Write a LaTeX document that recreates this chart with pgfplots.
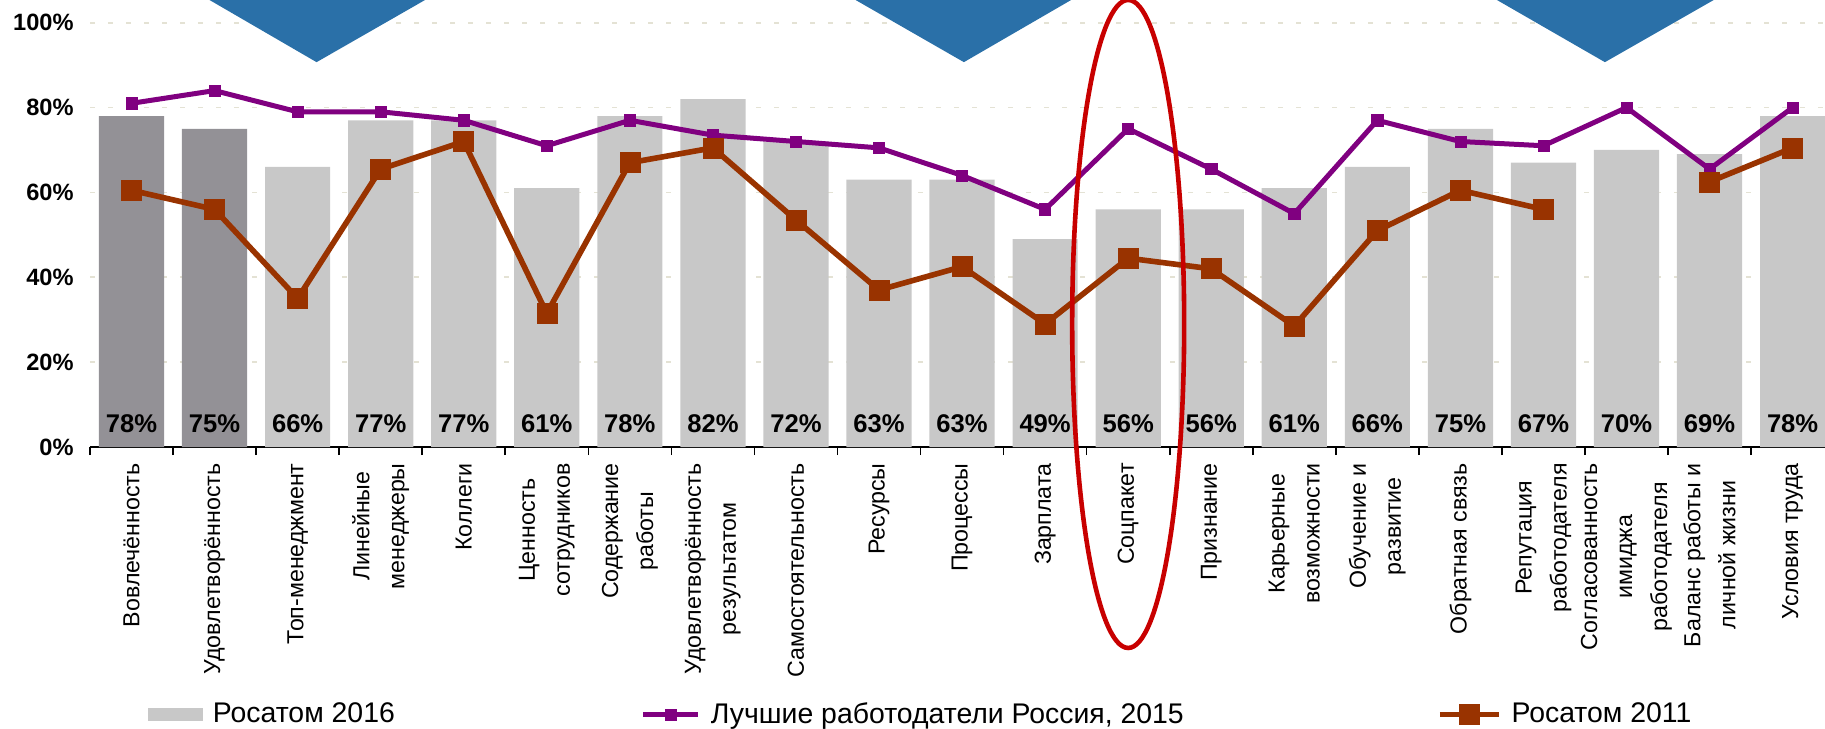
\documentclass[border=0pt]{standalone}
\usepackage{pgfplots}
\pgfplotsset{compat=1.18}
\usepackage{fontspec}
\setmainfont{Liberation Sans}
\definecolor{lightbar}{HTML}{C8C8C8}
\definecolor{darkbar}{HTML}{939196}
\definecolor{purp}{HTML}{800080}
\definecolor{brn}{HTML}{993300}
\definecolor{tri}{HTML}{2A70A8}
\definecolor{gridc}{HTML}{E4E2D4}
\definecolor{ell}{HTML}{C80000}
\pgfplotsset{
  barlegend/.style={legend image code/.code={\fill[lightbar] (0pt,-3.25pt) rectangle (27.5pt,3.25pt);}},
  linelegendA/.style={legend image code/.code={\draw[mark repeat=2, mark phase=2, ##1] plot coordinates {(0pt,0pt) (13.75pt,0pt) (27.5pt,0pt)};}},
  linelegendB/.style={legend image code/.code={\draw[mark repeat=2, mark phase=2, ##1] plot coordinates {(0pt,0pt) (14.75pt,0pt) (29.5pt,0pt)};}},
}
\begin{document}
\begin{tikzpicture}
\useasboundingbox (-45pt,-140.5pt) rectangle (867.5pt,223.5pt);
\begin{axis}[
  at={(0,0)}, anchor=south west,
  scale only axis, width=867.5pt, height=212.15pt,
  xmin=-0.5, xmax=20.39, ymin=0, ymax=100,
  clip=false,
  axis x line*=bottom, axis y line*=left,
  y axis line style={draw=none},
  x axis line style={line width=0.9pt, -},
  major tick length=0pt,
  xtick={0,...,20},
  minor xtick={-0.5,0.5,...,19.5},
  minor x tick style={black, line width=0.8pt},
  minor tick length=4pt,
  tick align=outside,
  ytick={0,20,...,100},
  yticklabels={0\%,20\%,40\%,60\%,80\%,100\%},
  ymajorgrids,
  grid style={gridc, line width=0.9pt, dash pattern=on 2.5pt off 6.5pt},
  yticklabel style={font=\fontsize{11.8}{12}\selectfont\bfseries, inner sep=0pt},
  yticklabel shift=8pt,
  xticklabels={Вовлечённость, Удовлетворённость, Топ-менеджмент, {Линейные\\менеджеры}, Коллеги, {Ценность\\сотрудников}, {Содержание\\работы}, {Удовлетворённость\\результатом}, Самостоятельность, Ресурсы, Процессы, Зарплата, Соцпакет, Признание, {Карьерные\\возможности}, {Обучение и\\развитие}, Обратная связь, {Репутация\\работодателя}, {Согласованность\\имиджа\\работодателя}, {Баланс работы и\\личной жизни}, Условия труда},
  xticklabel style={rotate=90, anchor=east, align=center, inner sep=0pt, font=\fontsize{11.6}{17.5}\selectfont},
  xticklabel shift=8pt,
  legend columns=3,
  legend style={at={(rel axis cs:0.0334,-0.6304)}, anchor=west, draw=none, fill=none,
    inner sep=0pt, outer sep=0pt, font=\fontsize{14.2}{16}\selectfont,
    nodes={inner sep=0pt},
    column sep=0pt, /tikz/every odd column/.append style={column sep=5pt}},
]
% decorative triangles
\fill[tri] (axis cs:0.939,105.35) -- (axis cs:3.534,105.35) -- (axis cs:2.228,90.7) -- cycle;
\fill[tri] (axis cs:8.718,105.35) -- (axis cs:11.313,105.35) -- (axis cs:10.022,90.7) -- cycle;
\fill[tri] (axis cs:16.44,105.35) -- (axis cs:19.05,105.35) -- (axis cs:17.74,90.7) -- cycle;

\addplot[ybar, bar width=0.785, bar shift=0pt, fill=lightbar, draw=none, barlegend]
  coordinates {(2,66) (3,77) (4,77) (5,61) (6,78) (7,82) (8,72) (9,63) (10,63) (11,49) (12,56) (13,56) (14,61) (15,66) (16,75) (17,67) (18,70) (19,69) (20,78)};
\addlegendentry{\makebox[214pt][l]{Росатом 2016}}
\addplot[forget plot, ybar, bar width=0.785, bar shift=0pt, fill=darkbar, draw=none]
  coordinates {(0,78) (1,75)};

\addplot[purp, line width=2.5pt, mark=square*, mark size=2.8pt, mark options={solid, line width=0.3pt, fill=purp}, linelegendA]
  coordinates {(0,81) (1,84) (2,79) (3,79) (4,77) (5,71) (6,77) (7,73.5) (8,72) (9,70.5) (10,64) (11,56) (12,75) (13,65.5) (14,55) (15,77) (16,72) (17,71) (18,80) (19,65.5) (20,80)};
\addlegendentry{\makebox[363pt][l]{Лучшие работодатели Россия, 2015}}

\addplot[brn, line width=2.8pt, mark=square*, mark size=5pt, mark options={solid, line width=0.3pt, fill=brn},
  unbounded coords=jump, linelegendB]
  coordinates {(0,60.5) (1,56) (2,35) (3,65.5) (4,72) (5,31.5) (6,67) (7,70.5) (8,53.5) (9,37) (10,42.5) (11,29) (12,44.5) (13,42) (14,28.5) (15,51) (16,60.5) (17,56) (18,nan) (19,62.5) (20,70.5)};
\addlegendentry{Росатом 2011}

\addplot[forget plot, draw=none, mark=none, point meta=explicit symbolic,
  nodes near coords={\pgfplotspointmeta\%},
  every node near coord/.append style={anchor=base, yshift=7.5pt, inner sep=0pt, black,
    font=\fontsize{12.8}{13}\selectfont\bfseries}]
  table[meta=v] {
x y v
0 0 78
1 0 75
2 0 66
3 0 77
4 0 77
5 0 61
6 0 78
7 0 82
8 0 72
9 0 63
10 0 63
11 0 49
12 0 56
13 0 56
14 0 61
15 0 66
16 0 75
17 0 67
18 0 70
19 0 69
20 0 78
};
\coordinate (E) at (axis cs:12,29);
\end{axis}
\draw[ell, line width=2.3pt] (E) ellipse [x radius=28pt, y radius=162pt];
\end{tikzpicture}
\end{document}
